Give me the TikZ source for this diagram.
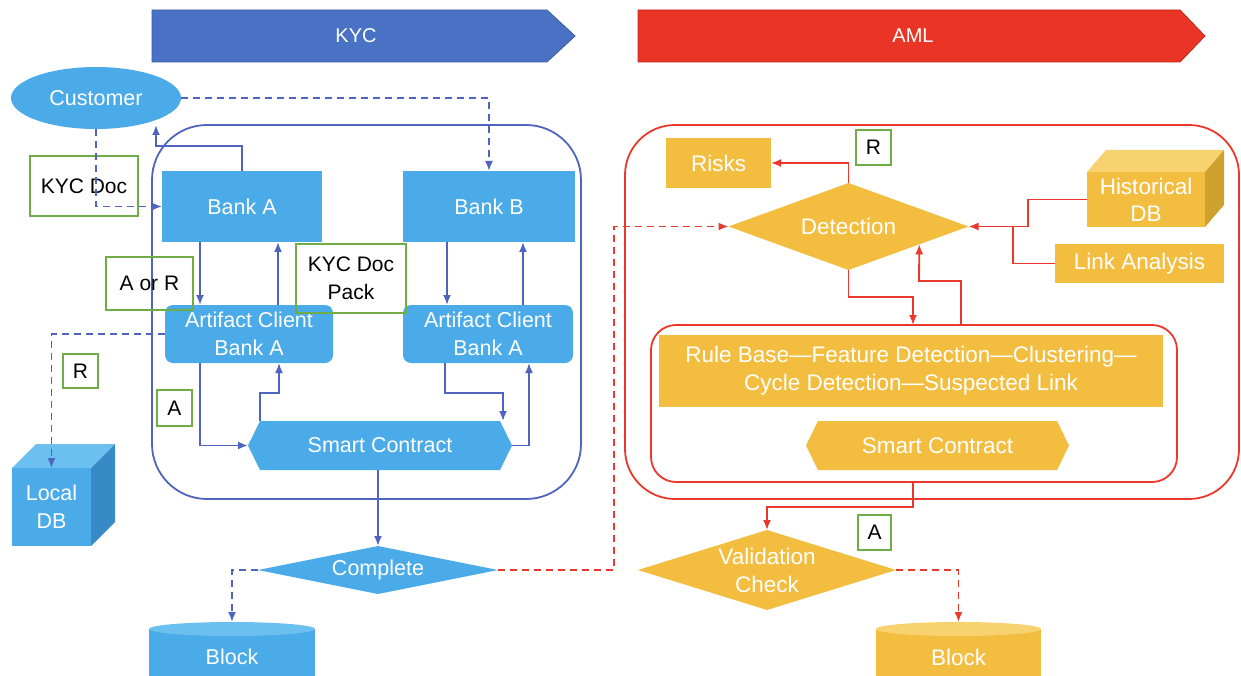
\documentclass[tikz,border=0pt]{standalone}
\usepackage{fontspec}
\setmainfont{Liberation Sans}
\usetikzlibrary{shapes.geometric,arrows.meta,calc}
\definecolor{kycblue}{RGB}{74,114,196}
\definecolor{amlred}{RGB}{233,52,38}
\definecolor{lblue}{RGB}{74,171,232}
\definecolor{lbluetop}{RGB}{108,192,240}
\definecolor{lbluedark}{RGB}{56,138,198}
\definecolor{cblue}{RGB}{78,100,190}
\definecolor{cred}{RGB}{234,56,44}
\definecolor{orng}{RGB}{243,190,64}
\definecolor{orngtop}{RGB}{247,210,110}
\definecolor{orngdark}{RGB}{206,160,46}
\definecolor{gbox}{RGB}{112,173,71}
\begin{document}
\begin{tikzpicture}[x=1pt,y=-1pt,
  base/.style={inner sep=0pt, outer sep=0pt},
  bl/.style={base, fill=lblue, text=white, font=\fontsize{21.5}{28}\selectfont, align=center},
  bltext/.style={base, text=white, font=\fontsize{21.5}{28}\selectfont, align=center},
  og/.style={base, fill=orng, text=white, font=\fontsize{22.5}{28}\selectfont, align=center},
  ogtext/.style={base, text=white, font=\fontsize{22.5}{28}\selectfont, align=center},
  gb/.style={base, draw=gbox, line width=1.4pt, text=black, font=\fontsize{21}{28}\selectfont, align=center},
  bline/.style={draw=cblue, line width=1.8pt},
  rline/.style={draw=cred, line width=1.8pt},
  arr/.style={-{Latex[length=10pt,width=8pt]}},
  dsh/.style={dash pattern=on 7pt off 5pt},
  bantext/.style={base, text=white, font=\fontsize{20}{22}\selectfont},
]
\useasboundingbox (0,0) rectangle (1241,676);
\clip (0,0) rectangle (1241,676);
\fill[white] (0,0) rectangle (1241,676);

% banners
\filldraw[fill=kycblue, draw=kycblue!80!black, line width=0.8pt] (152,10) -- (547,10) -- (575,36) -- (547,62) -- (152,62) -- cycle;
\node[bantext] (kyc) at (356,36) {KYC};
\filldraw[fill=amlred, draw=amlred!80!black, line width=0.8pt] (638,10) -- (1180,10) -- (1205,36) -- (1180,62) -- (638,62) -- cycle;
\node[bantext] (aml) at (913,36) {AML};

% containers
\node[base, draw=cblue, line width=1.8pt, rounded corners=55pt, minimum width=429pt, minimum height=374pt] (kycarea) at (366.5,312) {};
\node[base, draw=cred, line width=1.8pt, rounded corners=50pt, minimum width=614pt, minimum height=374pt] (amlarea) at (932,312) {};
\node[base, draw=cred, line width=1.8pt, rounded corners=25pt, minimum width=526pt, minimum height=157pt] (inner) at (914,403.5) {};

% KYC side
\node[bl, ellipse, minimum width=170pt, minimum height=62pt] (cust) at (96,98) {Customer};
\coordinate (custin) at (156,125);
\node[bl, minimum width=160pt, minimum height=71pt] (bankA) at (242,206.5) {Bank A};
\node[bl, minimum width=172pt, minimum height=71pt] (bankB) at (489,206.5) {Bank B};
\node[bl, rounded corners=8pt, minimum width=168pt, minimum height=58pt] (artA) at (249,334) {Artifact Client\\Bank A};
\node[bl, rounded corners=8pt, minimum width=170pt, minimum height=58pt] (artB) at (488,334) {Artifact Client\\Bank A};

\fill[lblue] (248,445.5) -- (260,421) -- (500,421) -- (512,445.5) -- (500,470) -- (260,470) -- cycle;
\node[bltext, minimum width=264pt, minimum height=49pt] (scL) at (380,445.5) {Smart Contract};

\node[bl, diamond, aspect=5, minimum width=240pt, minimum height=48pt] (complete) at (378,570) {Complete};

\node[bl, minimum width=166pt, minimum height=56pt] (blockL) at (232,657) {Block};
\fill[lbluetop] (blockL.north) ellipse [x radius=83pt, y radius=7pt];
\coordinate (blockLtop) at ($(blockL.north)+(0,-7)$);

\node[bl, minimum width=79pt, minimum height=78pt] (localdb) at (51.5,507) {Local\\DB};
\fill[lbluetop] (localdb.north west) -- ++(24,-24) -- ++(79,0) -- (localdb.north east) -- cycle;
\fill[lbluedark] (localdb.north east) -- ++(24,-24) -- ++(0,78) -- (localdb.south east) -- cycle;

% AML side
\node[og, minimum width=105pt, minimum height=50pt] (risks) at (718.5,163) {Risks};
\node[og, diamond, aspect=2.76, minimum width=240pt, minimum height=87pt] (detect) at (848.5,226.5) {Detection};
\coordinate (detin) at ($(detect.east)!0.41!(detect.south)$);
\node[og, minimum width=118pt, minimum height=55pt] (hist) at (1146,199.5) {Historical\\[-1pt]DB};
\fill[orngtop] (hist.north west) -- ++(19,-22) -- ++(118,0) -- (hist.north east) -- cycle;
\fill[orngdark] (hist.north east) -- ++(19,-22) -- ++(0,55) -- (hist.south east) -- cycle;
\node[og, minimum width=169pt, minimum height=39pt] (link) at (1139.5,263.5) {Link Analysis};
\node[og, minimum width=504pt, minimum height=72pt] (rules) at (911,371) {Rule Base—Feature Detection—Clustering—\\Cycle Detection—Suspected Link};
\fill[orng] (806,445.5) -- (818,421) -- (1057,421) -- (1069,445.5) -- (1057,470) -- (818,470) -- cycle;
\node[ogtext, minimum width=263pt, minimum height=49pt] (scR) at (937.5,445.5) {Smart Contract};
\node[og, diamond, aspect=3.2, minimum width=258pt, minimum height=80pt] (valid) at (767,570) {Validation\\Check};
\node[og, minimum width=165pt, minimum height=56pt] (blockR) at (958.5,657) {Block};
\fill[orngtop] (blockR.north) ellipse [x radius=82.5pt, y radius=7pt];
\coordinate (blockRtop) at ($(blockR.north)+(0,-7)$);

% green label boxes
\node[gb, minimum width=108pt, minimum height=60pt] (kycdoc) at (84,186) {KYC Doc};
\node[gb, minimum width=87pt, minimum height=53pt] (aorr) at (149.5,283.5) {A or R};
\node[gb, minimum width=110pt, minimum height=69pt] (kycpack) at (351,278.5) {KYC Doc\\Pack};
\node[gb, minimum width=35pt, minimum height=34pt] (rL) at (80.5,371) {R};
\node[gb, minimum width=35pt, minimum height=36pt] (aL) at (174.5,408) {A};
\node[gb, minimum width=35pt, minimum height=35pt] (rR) at (873.5,147.5) {R};
\node[gb, minimum width=33pt, minimum height=35pt] (aR) at (874.5,532.5) {A};

% blue connectors
\draw[bline,dsh,arr] (cust.east) -| (bankB.north);
\draw[bline,dsh,arr] (cust.south) |- (bankA.west);
\draw[bline,arr] (bankA.north) |- (156,146) -- (custin);
\draw[bline,arr] (200,0 |- bankA.south) -- (200,0 |- artA.north);
\draw[bline,arr] (278,0 |- artA.north) -- (278,0 |- bankA.south);
\draw[bline,arr] (447,0 |- bankB.south) -- (447,0 |- artB.north);
\draw[bline,arr] (523,0 |- artB.north) -- (523,0 |- bankB.south);
\draw[bline,arr] (200,0 |- artA.south) |- (scL.west);
\draw[bline,arr] (260,0 |- scL.north) -- (260,393) -| (279,0 |- artA.south);
\draw[bline,arr] (445,0 |- artB.south) -- (445,393) -| (503,0 |- scL.north);
\draw[bline,arr] (scL.east) -| (529,0 |- artB.south);
\draw[bline,arr] (complete.north |- scL.south) -- (complete.north);
\draw[bline,dsh,arr] (artA.west) -| (localdb.north);
\draw[bline,dsh,arr] (complete.west) -| (blockLtop);

% red connectors
\draw[rline,dsh,arr] (complete.east) -| (614,0 |- detect.west) -- (detect.west);
\draw[rline,arr] (detect.north) |- (risks.east);
\draw[rline,arr] (hist.west) -- (1028,0 |- hist.west) |- (detect.east);
\draw[rline] (link.west) -| (1013,0 |- detect.east);
\draw[rline,arr] (detect.south) |- (913,297) -- (913,0 |- inner.north);
\draw[rline,arr] (961,0 |- inner.north) |- (919,281) -- (detin);
\draw[rline,arr] (913,0 |- inner.south) |- (767,507) -- (valid.north);
\draw[rline,dsh,arr] (valid.east) -| (blockRtop);
\end{tikzpicture}
\end{document}
